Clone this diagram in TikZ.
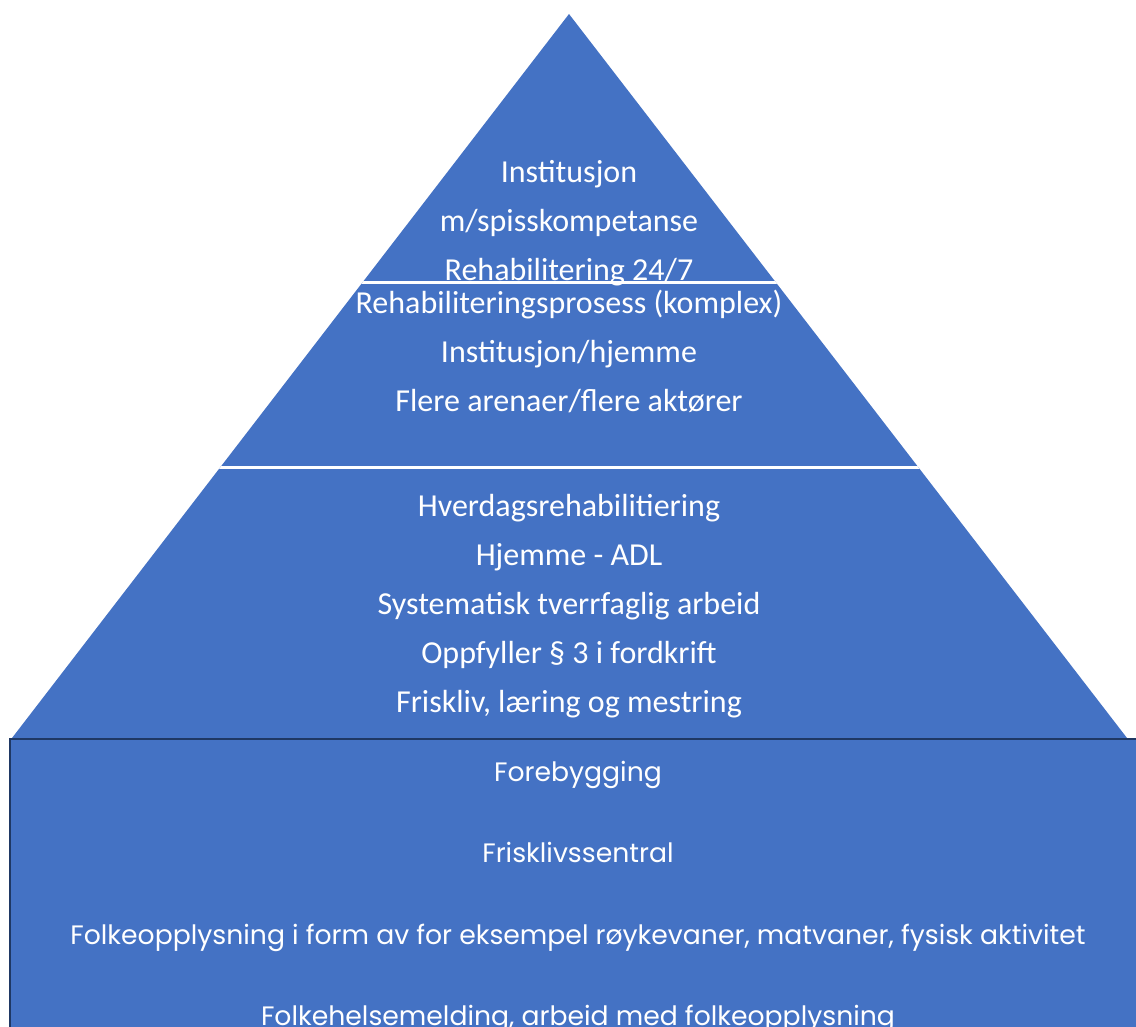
\documentclass[tikz,border=0pt]{standalone}
\usepackage{fontspec}
\setmainfont{Carlito}
\newfontfamily\basefont{Poppins}
\usepackage{xcolor}
\usepackage{tikz}
\definecolor{tierblue}{HTML}{4472C4}
\definecolor{edgeblue}{HTML}{1F3864}
\tikzset{
  tier/.style     = { fill=tierblue },
  divide/.style   = { draw=white, line width=2.25pt },
  base/.style     = { fill=tierblue, draw=edgeblue, line width=1.5pt },
  tiertext/.style = { text=white, align=center, inner sep=0pt, font=\fontsize{24}{36.75}\selectfont },
  basetext/.style = { text=white, align=center, inner sep=0pt, font=\basefont\fontsize{20}{61}\selectfont }
}

\begin{document}
\begin{tikzpicture}[x=0.75pt,y=-0.75pt]
\useasboundingbox (0,0) rectangle (1136,1027);
\coordinate (apex)  at (569,14);
\coordinate (left)  at (12,738);
\coordinate (right) at (1127,738);
\begin{scope}
\fill[tier] (apex) -- (left) -- (right) -- cycle;
\clip (apex) -- (left) -- (right) -- cycle;
\draw[divide] (0,282.5) -- (1136,282.5);
\draw[divide] (0,467) -- (1136,467);
\end{scope}
\draw[base] (10,739) rectangle (1150,1045);

\node[tiertext] (top) at (569,223)
  {Institusjon\\m/spisskompetanse\\Rehabilitering 24/7};
\node[tiertext] (middle) at (569,351)
  {Rehabiliteringsprosess (komplex)\\Institusjon/hjemme\\Flere arenaer/flere aktører};
\node[tiertext] (lower) at (569,606)
  {Hverdagsrehabilitiering\\Hjemme - ADL\\Systematisk tverrfaglig arbeid\\Oppfyller § 3 i fordkrift\\Friskliv, læring og mestring};
\node[basetext] (bottom) at (578,897)
  {Forebygging\\Frisklivssentral\\Folkeopplysning i form av for eksempel røykevaner, matvaner, fysisk aktivitet\\Folkehelsemelding, arbeid med folkeopplysning};
\end{tikzpicture}
\end{document}
